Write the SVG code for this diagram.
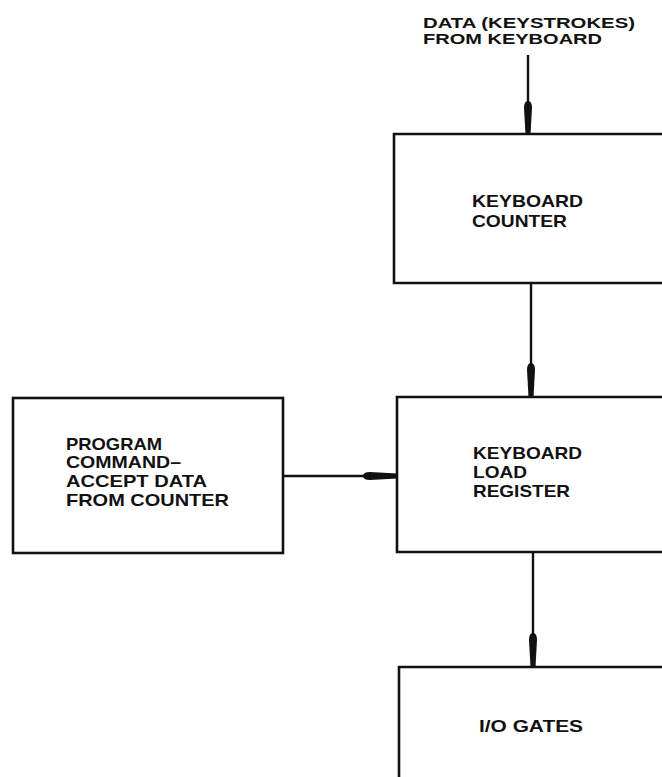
<svg xmlns="http://www.w3.org/2000/svg" width="662" height="777" viewBox="0 0 662 777">
<style>
.box{fill:none;stroke:#111;stroke-width:2.6;}
.ln{fill:none;stroke:#111;stroke-width:2.4;}
.hd{fill:#111;stroke:none;}
text{font-family:"Liberation Sans",Arial,sans-serif;font-weight:bold;font-size:17px;fill:#111;}
.sm{font-size:15px;}
</style>
<rect width="662" height="777" fill="#fff"/>
<g id="input-label">
<text class="sm" x="423" y="28" textLength="212" lengthAdjust="spacingAndGlyphs">DATA (KEYSTROKES)</text>
<text class="sm" x="423" y="44" textLength="179" lengthAdjust="spacingAndGlyphs">FROM KEYBOARD</text>
</g>
<g id="keyboard-counter">
<path class="box" d="M664,134 L394,134 L394,283 L664,283"/>
<text x="472" y="207" textLength="111" lengthAdjust="spacingAndGlyphs">KEYBOARD</text>
<text x="472" y="227" textLength="95" lengthAdjust="spacingAndGlyphs">COUNTER</text>
</g>
<g id="program-command">
<rect class="box" x="13" y="398" width="270" height="155"/>
<text x="66" y="450" textLength="96" lengthAdjust="spacingAndGlyphs">PROGRAM</text>
<text x="66" y="468" textLength="115" lengthAdjust="spacingAndGlyphs">COMMAND–</text>
<text x="66" y="487" textLength="141" lengthAdjust="spacingAndGlyphs">ACCEPT DATA</text>
<text x="66" y="506" textLength="163" lengthAdjust="spacingAndGlyphs">FROM COUNTER</text>
</g>
<g id="keyboard-load-register">
<path class="box" d="M664,397 L397,397 L397,552 L664,552"/>
<text x="473" y="459" textLength="109" lengthAdjust="spacingAndGlyphs">KEYBOARD</text>
<text x="473" y="478" textLength="54" lengthAdjust="spacingAndGlyphs">LOAD</text>
<text x="473" y="497" textLength="97" lengthAdjust="spacingAndGlyphs">REGISTER</text>
</g>
<g id="io-gates">
<path class="box" d="M664,667 L399,667 L399,779"/>
<text x="479" y="732" textLength="104" lengthAdjust="spacingAndGlyphs">I/O GATES</text>
</g>
<g id="connectors">
<line class="ln" x1="528" y1="55" x2="528" y2="134"/>
<path class="hd" d="M524,108 Q524,101 528,101 Q532,101 532,108 L530.5,134 L525.5,134 Z"/>
<line class="ln" x1="531" y1="283" x2="531" y2="397"/>
<path class="hd" d="M527,370 Q527,363 531,363 Q535,363 535,370 L533.5,397 L528.5,397 Z"/>
<line class="ln" x1="533" y1="552" x2="533" y2="667"/>
<path class="hd" d="M529,640 Q529,633 533,633 Q537,633 537,640 L535.5,667 L530.5,667 Z"/>
<line class="ln" x1="283" y1="476" x2="397" y2="476"/>
<path class="hd" d="M370,472 Q363,472 363,476 Q363,480 370,480 L397,478.5 L397,473.5 Z"/>
</g>
</svg>
